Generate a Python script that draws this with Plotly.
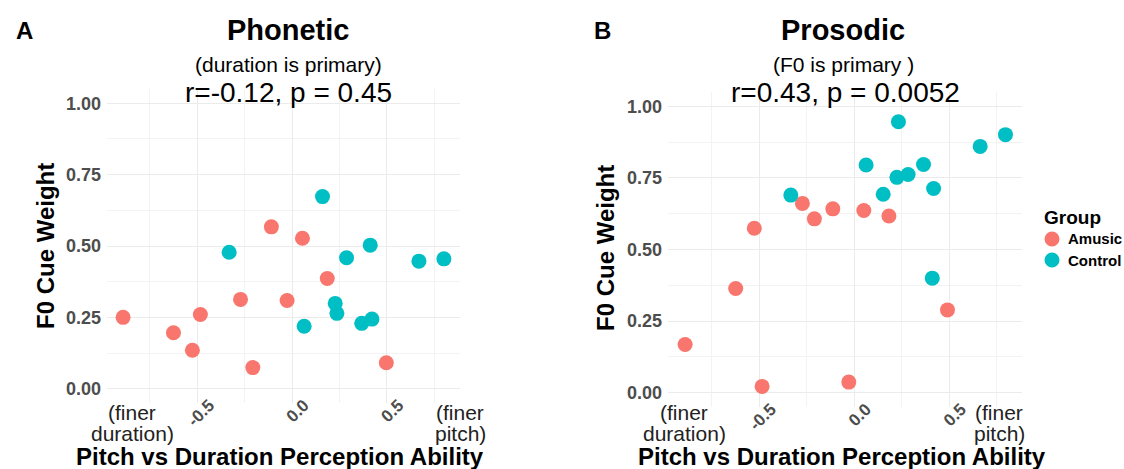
import plotly.graph_objects as go

W, H = 1124, 469

# ---- data ----
groups = ["Amusic", "Control"]
colors = {"Amusic": "#F8766D", "Control": "#00BFC4"}

phon_amusic_x = [-0.892, -0.626, -0.526, -0.484, -0.272, -0.207, -0.109, -0.026, 0.055, 0.186, 0.498]
phon_amusic_y = [0.250, 0.196, 0.135, 0.260, 0.313, 0.074, 0.567, 0.309, 0.527, 0.386, 0.091]
phon_control_x = [-0.332, 0.064, 0.161, 0.228, 0.237, 0.288, 0.368, 0.422, 0.413, 0.670, 0.802]
phon_control_y = [0.478, 0.219, 0.673, 0.299, 0.264, 0.459, 0.229, 0.244, 0.503, 0.447, 0.455]

pros_amusic_x = [-0.889, -0.623, -0.525, -0.484, -0.272, -0.209, -0.112, -0.028, 0.051, 0.183, 0.491]
pros_amusic_y = [0.168, 0.364, 0.574, 0.022, 0.661, 0.607, 0.642, 0.037, 0.636, 0.617, 0.289]
pros_control_x = [-0.333, 0.063, 0.153, 0.233, 0.225, 0.284, 0.365, 0.418, 0.411, 0.663, 0.796]
pros_control_y = [0.690, 0.795, 0.693, 0.946, 0.752, 0.762, 0.797, 0.713, 0.400, 0.860, 0.901]

x_tickvals = [-0.5, 0.0, 0.5]
x_ticktext = ["-0.5", "0.0", "0.5"]
y_tickvals = [0.0, 0.25, 0.5, 0.75, 1.0]
y_ticktext = ["0.00", "0.25", "0.50", "0.75", "1.00"]

panel_letters = ["A", "B"]
titles = ["Phonetic", "Prosodic"]
subtitles = ["(duration is primary)", "(F0 is primary )"]
stats = ["r=-0.12, p = 0.45", "r=0.43, p = 0.0052"]
x_title = "Pitch vs Duration Perception Ability"
y_title = "F0 Cue Weight"
left_note = ["(finer", "duration)"]
right_note = ["(finer", "pitch)"]
legend_title = "Group"

FONT = "Liberation Sans, Arial, Helvetica, sans-serif"
GRID = "#EBEBEB"
MINOR = "#F3F3F3"
TICKC = "#4D4D4D"

fig = go.Figure()

panels = [
    ("x", "y", phon_amusic_x, phon_amusic_y, phon_control_x, phon_control_y),
    ("x2", "y2", pros_amusic_x, pros_amusic_y, pros_control_x, pros_control_y),
]
for xa, ya, ax_, ay_, cx_, cy_ in panels:
    fig.add_trace(go.Scatter(x=ax_, y=ay_, mode="markers", name="Amusic",
                             showlegend=False, xaxis=xa, yaxis=ya,
                             marker=dict(color=colors["Amusic"], size=15, line=dict(width=0))))
    fig.add_trace(go.Scatter(x=cx_, y=cy_, mode="markers", name="Control",
                             showlegend=False, xaxis=xa, yaxis=ya,
                             marker=dict(color=colors["Control"], size=15, line=dict(width=0))))


def px_x(p):
    return p / W


def px_y(p):
    return 1 - p / H


def xaxis_cfg(domain, rng):
    return dict(domain=domain, range=rng, tickvals=x_tickvals, ticktext=x_ticktext,
                tickangle=-45, showgrid=True, gridcolor=GRID, gridwidth=1.2,
                zeroline=False, showline=False, ticks="", automargin=False,
                tickfont=dict(family=FONT, size=17, color=TICKC, weight="bold"),
                ticklabelshift=12, ticklabelstandoff=-12,
                minor=dict(tickvals=[-0.75, -0.25, 0.25, 0.75], showgrid=True,
                           gridcolor=MINOR, gridwidth=0.8, ticks=""))


def yaxis_cfg(domain, anchor):
    return dict(domain=domain, range=[-0.05, 1.05], tickvals=y_tickvals, ticktext=y_ticktext,
                showgrid=True, gridcolor=GRID, gridwidth=1.2, zeroline=False, showline=False,
                ticks="", anchor=anchor, ticklabelstandoff=5, automargin=False,
                tickfont=dict(family=FONT, size=18, color=TICKC, weight="bold"),
                minor=dict(tickvals=[0.125, 0.375, 0.625, 0.875], showgrid=True,
                           gridcolor=MINOR, gridwidth=0.8, ticks=""))


fig.update_layout(
    width=W, height=H,
    margin=dict(l=0, r=0, t=0, b=0, autoexpand=False),
    paper_bgcolor="white", plot_bgcolor="white",
    font=dict(family=FONT, color="black"),
    showlegend=False,
    xaxis=dict(xaxis_cfg([px_x(107), px_x(460)], [-0.977, 0.887]), anchor="y"),
    yaxis=yaxis_cfg([px_y(403), px_y(89)], "x"),
    xaxis2=dict(xaxis_cfg([px_x(668), px_x(1022)], [-0.979, 0.883]), anchor="y2"),
    yaxis2=yaxis_cfg([px_y(407), px_y(92)], "x2"),
)


def ann(text, x, y, size, bold=False, color="black", angle=0, xanchor="center"):
    fig.add_annotation(text=text, x=px_x(x), y=px_y(y), xref="paper", yref="paper",
                       showarrow=False, xanchor=xanchor, yanchor="middle", textangle=angle,
                       font=dict(family=FONT, size=size, color=color,
                                 weight="bold" if bold else "normal"))


# panel texts
centers = [288, 843]
letter_x = [24, 602]
for i in range(2):
    ann(panel_letters[i], letter_x[i], 30, 24, bold=True)
    ann(titles[i], centers[i], 30, 29, bold=True)
    ann(subtitles[i], centers[i], 64, 21)
    ann(stats[i], centers[i] + (0 if i == 0 else 2), 92, 28)

# axis titles
ann(y_title, 45, 246, 24, bold=True, angle=-90)
ann(y_title, 605, 248, 24, bold=True, angle=-90)
ann(x_title, 280, 456, 24, bold=True)
ann(x_title, 842, 456, 24, bold=True)

# end-of-axis notes
note_color = "#222222"
for (lx, rx) in [(132, 460), (684, 999)]:
    ann(left_note[0], lx, 412, 21, color=note_color)
    ann(left_note[1], lx, 433, 21, color=note_color)
    ann(right_note[0], rx, 412, 21, color=note_color)
    ann(right_note[1], rx, 433, 21, color=note_color)

# legend (drawn as keys + labels)
ann(legend_title, 1042, 217, 19, bold=True, xanchor="left")
for g, ly in zip(groups, [239, 260]):
    fig.add_shape(type="circle", xref="paper", yref="paper",
                  xsizemode="pixel", ysizemode="pixel",
                  xanchor=px_x(1052), yanchor=px_y(ly),
                  x0=-7.5, x1=7.5, y0=-7.5, y1=7.5,
                  fillcolor=colors[g], line=dict(width=0))
    ann(g, 1066, ly, 15, bold=True, xanchor="left")

fig.write_html("out.html")
